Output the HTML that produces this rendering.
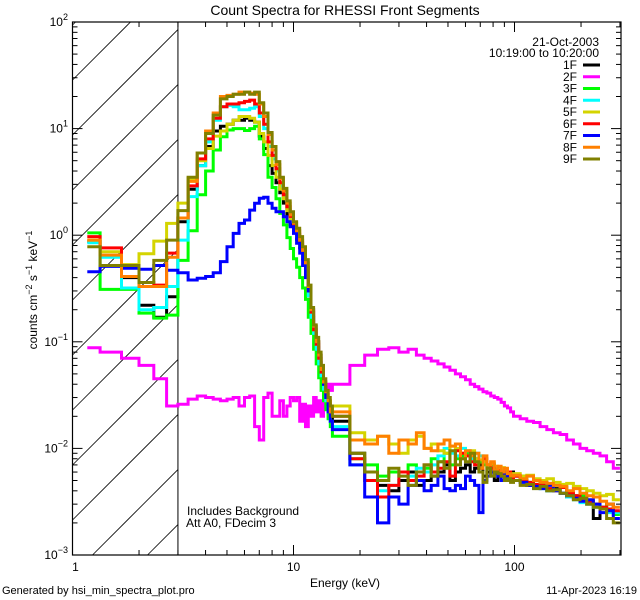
<!DOCTYPE html>
<html><head><meta charset="utf-8"><style>
html,body{margin:0;padding:0;width:640px;height:600px;overflow:hidden;background:#fff;}
svg{display:block;font-family:"Liberation Sans",sans-serif;}
</style></head><body>
<svg id="chart" width="640" height="600" viewBox="0 0 640 600">
<defs><clipPath id="plotclip"><rect x="72.5" y="22" width="548.5" height="533"/></clipPath></defs>
<rect width="640" height="600" fill="#fff"/>
<text x="345" y="15" font-size="14" text-anchor="middle">Count Spectra for RHESSI Front Segments</text>
<g id="hatch"></g>
<g id="series" clip-path="url(#plotclip)"></g>
<g id="axes"></g>
<text x="187" y="515" font-size="12">Includes Background</text>
<text x="186" y="527" font-size="12">Att A0, FDecim 3</text>
<text x="345" y="587" font-size="12" text-anchor="middle">Energy (keV)</text>
<text transform="translate(37,290) rotate(-90)" font-size="12" text-anchor="middle">counts cm<tspan dy="-5" font-size="9">−2</tspan><tspan dy="5"> s</tspan><tspan dy="-5" font-size="9">−1</tspan><tspan dy="5"> keV</tspan><tspan dy="-5" font-size="9">−1</tspan></text>
<text x="2" y="594" font-size="11">Generated by hsi_min_spectra_plot.pro</text>
<text x="637" y="594" font-size="11" text-anchor="end">11-Apr-2023 16:19</text>
<g id="legend">
<text x="599" y="46" font-size="12" text-anchor="end">21-Oct-2003</text>
<text x="599" y="57" font-size="12" text-anchor="end">10:19:00 to 10:20:00</text>
</g>
</svg>
<script>
const segNames = ["1F","2F","3F","4F","5F","6F","7F","8F","9F"];
const segColors = ["#000000","#ff00ff","#00ff00","#00ffff","#d4d400","#ff0000","#0000ff","#ff8000","#808000"];
const xTickValues = [1,10,100];
const xTickLabels = ["1","10","100"];
const yTickExps = [2,1,0,-1,-2,-3];

const s1F = [0.87,0.63,0.40,0.22,0.17,0.265,
1.34,2.7,4.5,6.8,9.5,10.5,11,12,12,12.5,12,11.5,8.5,6.5,4.5,3.8,3.1,2.5,2.0,1.55,1.25,1.05,0.92,0.76,0.6,0.45,0.27,0.17,0.12,0.088,0.064,0.048,0.037,0.03,0.024,0.019,
.018,.009,.006,.0045,.004,.005,.006,.0045,.005,.0055,.006,.007,.005,.006,.0065,.007,.006,.0065,.007,.0055,.006,.007,.005,.0065,.006,.0055,.005,.006,.0055,.005,.0045,.005,.0048,.004,.0042,.0038,.0035,.0036,.0032,.003,.0022,.0028,.003,.0025];
const s2F = [0.088,0.08,0.07,0.06,0.045,0.025,
0.026,0.029,0.031,0.03,0.029,0.028,0.029,0.03,0.025,0.03,0.031,0.016,0.012,0.03,0.033,0.02,0.02,0.028,0.02,0.025,0.03,0.028,0.03,0.018,0.026,0.016,0.025,0.02,0.03,0.022,0.028,0.02,0.03,0.025,0.04,0.035,
0.04,0.06,0.075,0.085,0.088,0.08,0.085,0.075,0.07,0.066,0.062,0.058,0.054,0.05,0.047,0.044,0.04,0.038,0.036,0.034,0.033,0.031,0.03,0.029,0.027,0.025,0.024,0.022,0.02,0.019,0.018,0.0175,0.016,0.015,0.014,0.0135,0.012,0.011,0.01,0.0095,0.009,0.0085,0.0075,0.0065];
const s3F = [1.05,0.31,0.31,0.186,0.167,0.178,
0.58,1.1,2.4,4.0,6.3,8.4,9.7,10,10,9.6,10,10.5,8.0,5.7,3.5,2.8,2.2,1.6,1.25,0.95,0.75,0.6,0.5,0.4,0.32,0.25,0.17,0.12,0.085,0.062,0.046,0.035,0.028,0.023,0.019,0.016,
.013,.008,.007,.0055,.006,.006,.007,.006,.0065,.008,.0075,.009,.007,.008,.0085,.009,.0085,.008,.0075,.007,.0065,.007,.006,.0065,.0058,.006,.0055,.0052,.005,.0055,.0048,.005,.0045,.0042,.004,.0044,.0038,.0035,.0036,.0032,.003,.0028,.0026,.0024];
const s4F = [0.85,0.62,0.32,0.2,0.21,0.33,
0.9,2.3,4.5,7.5,12,16,16.5,16,15,15,15.5,16,13,10,6.8,5.2,4.0,2.9,2.3,1.75,1.4,1.15,0.98,0.8,0.62,0.46,0.27,0.17,0.12,0.085,0.062,0.048,0.036,0.028,0.022,0.018,
.016,.007,.005,.004,.0045,.006,.0055,.0065,.006,.007,.0085,.01,.009,.0085,.01,.0095,.008,.009,.0085,.0075,.007,.0065,.0062,.0058,.006,.0055,.0052,.005,.005,.0048,.0046,.0044,.0042,.004,.0045,.0038,.0035,.0033,.0031,.003,.0028,.0027,.0025,.0025];
const s5F = [0.9,0.7,0.53,0.67,0.88,1.29,
2.0,3.4,5.0,6.5,8.5,9.5,11,12,13,13,12.5,11.5,9,7.5,5.6,4.5,3.5,2.7,2.2,1.7,1.38,1.12,0.98,0.82,0.66,0.5,0.3,0.19,0.13,0.1,0.075,0.055,0.042,0.034,0.028,0.022,
.025,.014,.012,.013,.011,.009,.012,.013,.01,.011,.0095,.009,.0105,.01,.009,.0085,.0095,.008,.0078,.0075,.007,.0072,.0068,.0065,.0066,.0062,.006,.0058,.0058,.0055,.0056,.0052,.005,.0052,.0048,.0046,.0047,.0044,.0042,.004,.0038,.0036,.0037,.0033];
const s6F = [0.97,0.76,0.5,0.36,0.34,0.68,
1.45,2.9,5.2,8,12.5,16,17,17,17.5,18,18.5,17,14,11,7.5,5.6,4.2,3.1,2.4,1.85,1.5,1.2,1.02,0.85,0.68,0.5,0.3,0.19,0.13,0.095,0.07,0.052,0.04,0.032,0.026,0.02,
.02,.008,.005,.0035,.0045,.006,.005,.0055,.007,.006,.0065,.0075,.0055,.0095,.009,.0085,.0075,.007,.0065,.008,.007,.0065,.006,.0062,.0058,.0055,.006,.005,.0055,.005,.0048,.0046,.0045,.0042,.004,.0043,.0038,.0036,.0034,.0032,.003,.0028,.0027,.0026];
const s7F = [0.455,0.51,0.49,0.48,0.52,0.47,
0.445,0.38,0.395,0.41,0.445,0.565,0.78,1.04,1.29,1.39,1.72,1.99,2.22,2.27,1.99,1.79,1.66,1.66,1.49,1.34,1.2,1.04,0.84,0.68,0.52,0.4,0.3,0.2,0.14,0.1,0.075,0.055,0.04,0.03,0.022,0.018,
.015,.007,.0035,.002,.0035,.003,.0045,.005,.004,.0045,.0055,.0042,.004,.0045,.0042,.0055,.005,.0045,.0025,.005,.0055,.006,.0058,.0055,.005,.006,.0052,.005,.005,.0048,.0045,.0044,.0042,.0045,.004,.0038,.0036,.0034,.0032,.0033,.003,.0025,.0026,.0022];
const s8F = [0.9,0.65,0.41,0.33,0.33,0.62,
1.45,3.2,5.9,9.5,14,20,20.5,21,22,22,21.5,21,17,13,8.8,6.3,4.6,3.4,2.6,2.0,1.55,1.3,1.1,0.9,0.72,0.55,0.33,0.2,0.14,0.1,0.075,0.055,0.042,0.034,0.028,0.022,
.022,.012,.011,.013,.009,.012,.011,.014,.01,.0095,.011,.012,.0105,.011,.008,.0095,.0085,.009,.0065,.0085,.007,.0075,.0062,.0068,.006,.0065,.0058,.0055,.0056,.0052,.0055,.005,.0048,.0047,.0045,.0044,.004,.0042,.0038,.0036,.0035,.0032,.003,.0028];
const s9F = [0.78,0.52,0.52,0.36,0.58,0.9,
1.7,3.5,5.9,9.0,13.4,19,20,21,21,22,21,22,17.5,14,9.2,6.8,4.9,3.5,2.75,2.1,1.66,1.34,1.16,0.97,0.78,0.59,0.34,0.21,0.144,0.11,0.08,0.06,0.045,0.035,0.03,0.025,
.02,.009,.006,.005,.0065,.0055,.0045,.006,.007,.0055,.0075,.0065,.0095,.007,.008,.0075,.009,.0075,.006,.0048,.0065,.0055,.006,.0058,.0055,.005,.0052,.0048,.005,.0045,.0046,.0042,.0044,.004,.0041,.0038,.0036,.0033,.0034,.003,.0028,.0027,.0022,.002];
const seriesValues = [s1F,s2F,s3F,s4F,s5F,s6F,s7F,s8F,s9F];

const edges = [1.1667,1.3333];
for(let k=5;k<=45;k++) edges.push(k/3);
for(let e=18;e<=99;e+=3) edges.push(e);
for(let k=1;k<=16;k++) edges.push(99*Math.pow(300/99,k/16));

const NS="http://www.w3.org/2000/svg";
const X0=72.5, X1=621, DEC_X=221, Y0=22, Y1=555, DEC_Y=106.6;
function xs(e){return X0+DEC_X*Math.log10(e);}
function ys(v){return Y0+(2-Math.log10(v))*DEC_Y;}
function mk(tag,attrs,parent){const el=document.createElementNS(NS,tag);for(const k in attrs)el.setAttribute(k,attrs[k]);parent.appendChild(el);return el;}

// hatching, clipped analytically to the box
const hatch=document.getElementById('hatch');
const hx1=xs(3);
for(let c=-500;c<700;c+=55){
  const b=c+85; // y at X0; line y = b - (x - X0)
  let xa=X0, xb=hx1;
  // y within [Y0,Y1]: x - X0 in [b-Y1, b-Y0]
  xa=Math.max(xa, X0+(b-Y1));
  xb=Math.min(xb, X0+(b-Y0));
  if(xb<=xa) continue;
  const ln=mk('line',{x1:xa,y1:b-(xa-X0),x2:xb,y2:b-(xb-X0),stroke:'#000','stroke-width':0.8},hatch);
  
  
}
const bl=mk('line',{x1:hx1,y1:Y0,x2:hx1,y2:Y1,stroke:'#000','stroke-width':1},hatch);



const sg=document.getElementById('series');
seriesValues.forEach((vals,i)=>{
  let d='M'+xs(edges[0]).toFixed(1)+' '+ys(vals[0]).toFixed(1);
  for(let j=0;j<vals.length;j++){
    if(j>0) d+=' V'+ys(vals[j]).toFixed(1);
    d+=' H'+Math.min(X1,xs(edges[j+1])).toFixed(1);
  }
  const p=mk('path',{d:d,fill:'none',stroke:segColors[i],'stroke-width':3,'stroke-linejoin':'miter'},sg);
  
  
});

const ax=document.getElementById('axes');
const box=mk('rect',{x:X0,y:Y0,width:X1-X0,height:Y1-Y0,fill:'none',stroke:'#000','stroke-width':1.2},ax);


for(let d=0;d<3;d++){
  for(let m=1;m<=9;m++){
    const e=Math.pow(10,d)*m; if(e>300) break;
    const x=xs(e), L=(m===1)?10:5;
    const t1=mk('line',{x1:x,y1:Y1,x2:x,y2:Y1-L,stroke:'#000'},ax);
    
    
    const t2=mk('line',{x1:x,y1:Y0,x2:x,y2:Y0+L,stroke:'#000'},ax);
    
    
  }
}
xTickValues.forEach((v,i)=>{
  const t=mk('text',{x:xs(v)+(i===0?3:0),y:Y1+16,'font-size':12,'text-anchor':'middle'},ax);
  t.textContent=xTickLabels[i];
  
  
});
for(let p=-3;p<=1;p++){
  for(let m=1;m<=9;m++){
    const v=Math.pow(10,p)*m; const y=ys(v); const L=(m===1)?10:5;
    const a=mk('line',{x1:X0,y1:y,x2:X0+L,y2:y,stroke:'#000'},ax);
    
    
    const b=mk('line',{x1:X1,y1:y,x2:X1-L,y2:y,stroke:'#000'},ax);
    
    
  }
}
yTickExps.forEach(p=>{
  const y=ys(Math.pow(10,p));
  const t=mk('text',{x:68,y:y+4,'font-size':12,'text-anchor':'end'},ax);
  t.innerHTML='10<tspan dy="-6" font-size="9">'+(p<0?'−'+(-p):p)+'</tspan>';
  
  
});

const lg=document.getElementById('legend');
segNames.forEach((n,i)=>{
  const y=69+i*11.75;
  const t=mk('text',{x:577,y:y,'font-size':12,'text-anchor':'end'},lg);
  t.textContent=n;
  
  
  const l=mk('line',{x1:583,y1:y-4,x2:600,y2:y-4,stroke:segColors[i],'stroke-width':3},lg);
  
  
});
</script>
</body></html>
